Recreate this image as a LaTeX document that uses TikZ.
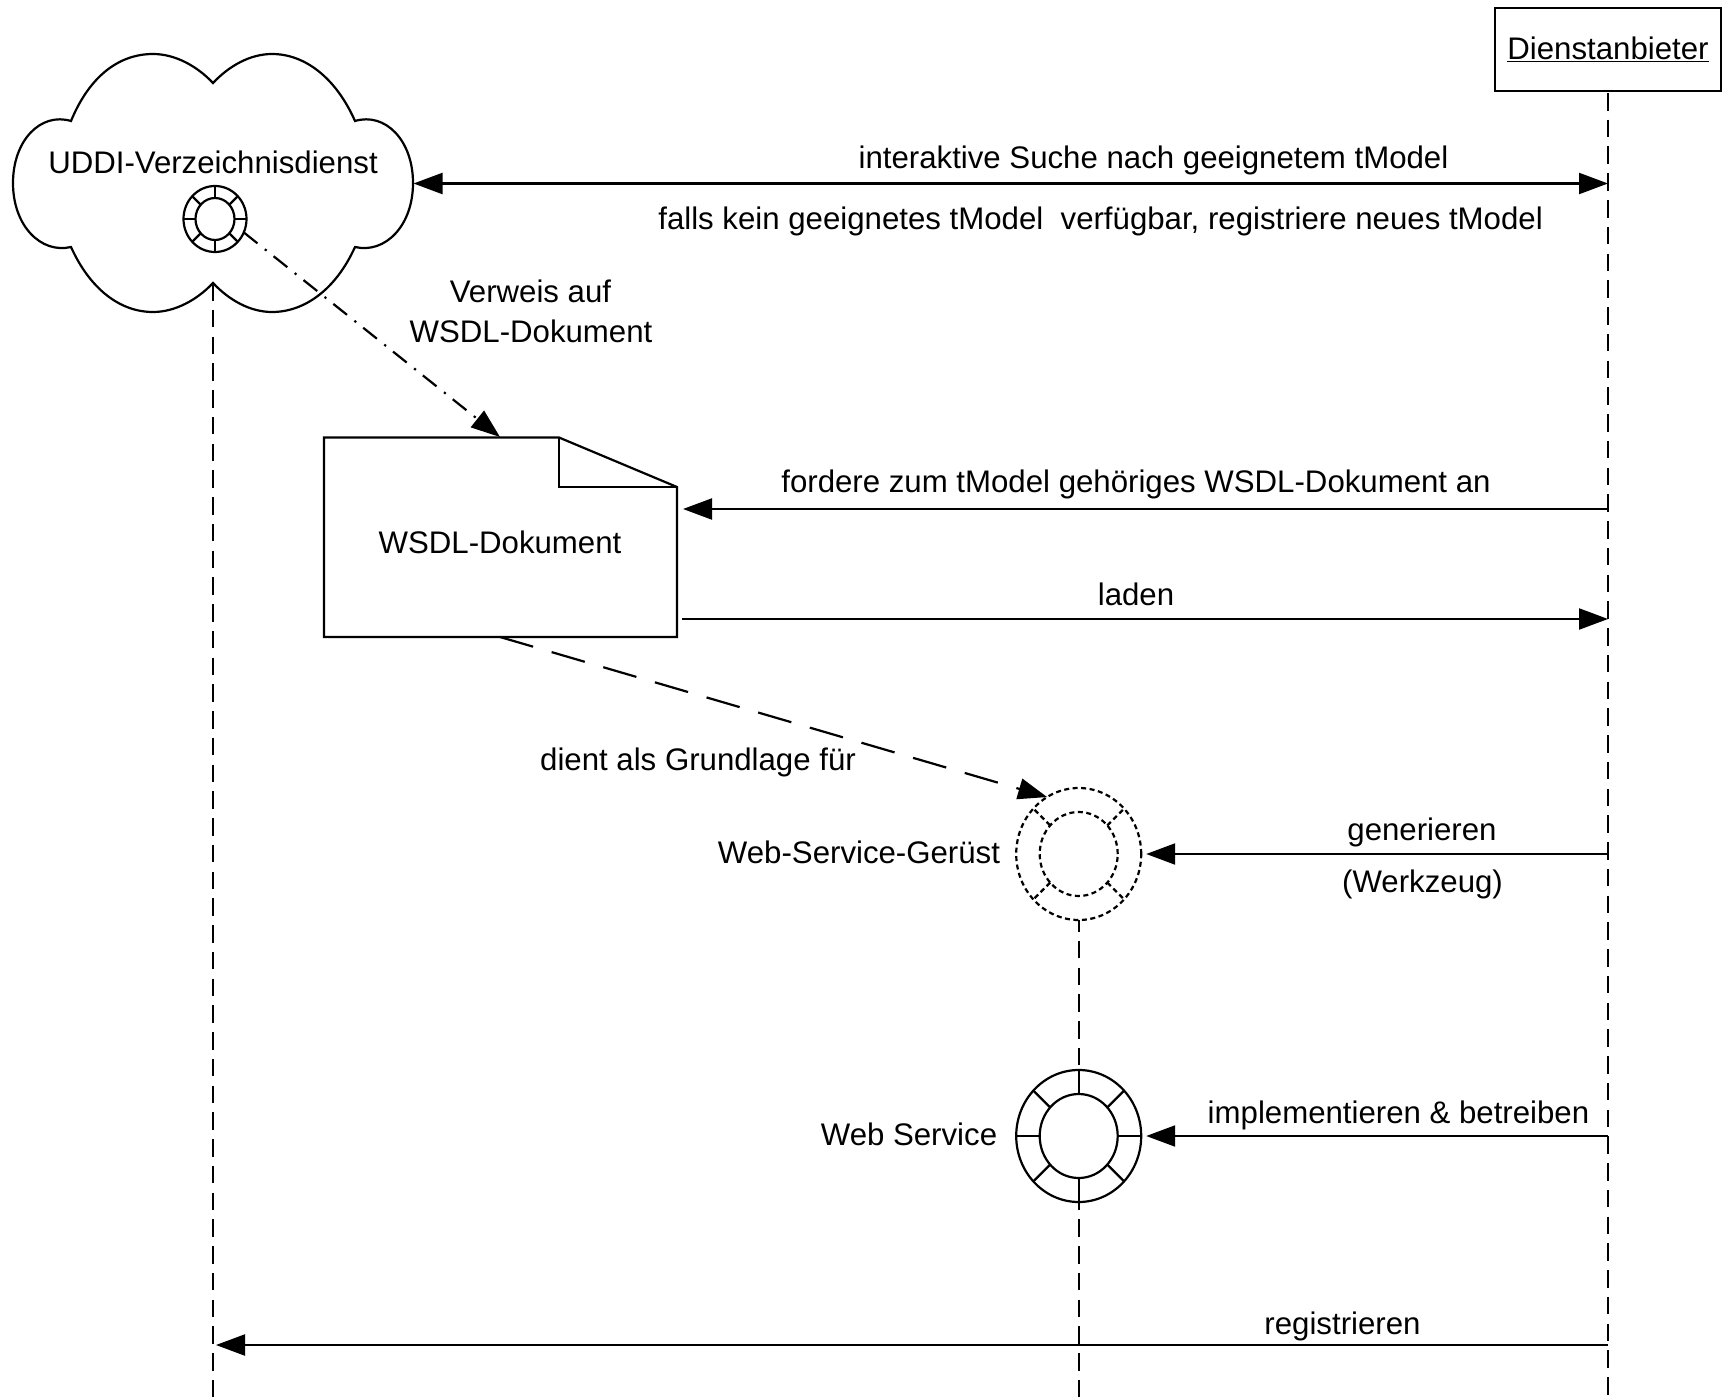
\documentclass[tikz,border=0pt]{standalone}
\usepackage{fontspec}
\setmainfont{Liberation Sans}
\usetikzlibrary{arrows.meta,shapes.geometric}
\tikzset{
  x=1pt,y=-1pt,
  every path/.style={line width=2.2pt},
  lbl/.style={inner sep=0pt,outer sep=0pt,font=\fontsize{31.2}{37}\selectfont,text height=29pt,text depth=6pt,align=center},
  tip/.style={-{Triangle[length=29pt,width=21pt]}},
  msg/.style={tip},
  msgboth/.style={{Triangle[length=29pt,width=21pt]}-{Triangle[length=29pt,width=21pt]}},
  life/.style={dash pattern=on 17.7pt off 9.05pt},
  refline/.style={tip,dash pattern=on 17.5pt off 9.5pt on 2.2pt off 9pt},
  basisline/.style={tip,dash pattern=on 34.5pt off 19.3pt},
  ringdot/.style={dash pattern=on 5pt off 3.5pt},
  ringsolid/.style={},
  ring/.style={ellipse,draw,inner sep=0pt,outer sep=0pt},
}
\newcommand{\ringicon}[8]{% name, x, y, inner w, inner h, outer w, outer h, style
  \node[ring,#8,minimum width=#6pt,minimum height=#7pt] (#1) at (#2,#3) {};
  \node[ring,#8,minimum width=#4pt,minimum height=#5pt] (#1In) at (#2,#3) {};
  \foreach \a in {45,135,225,315}{\draw[#8] (#1In.\a) -- (#1.\a);}
}
\begin{document}
\begin{tikzpicture}
\useasboundingbox (0,0) rectangle (1724,1399);
% lifelines
\node[draw,lbl,minimum width=226pt,minimum height=83pt,text height=26pt] (prov) at (1608,49.5) {\underline{Dienstanbieter}};
\coordinate (provStart) at (1608,93);
\coordinate (provEnd) at (1608,1399);
\draw[life] (provStart) -- (provEnd);
\coordinate (cloudS) at (213,283);
\coordinate (cloudE) at (413.5,183.5);
\coordinate (uddiEnd) at (213,1399);
\draw[life] (cloudS) -- (uddiEnd);
% cloud
\draw (71,121) .. controls (90,75) and (120,54) .. (153,54)
  .. controls (175,54) and (197,66) .. (213,83)
  .. controls (229,66) and (250,54) .. (272,54)
  .. controls (305,54) and (336,78) .. (355,121)
  .. controls (385,112) and (413,140) .. (413,183)
  .. controls (413,226) and (385,254) .. (355,247)
  .. controls (336,289) and (305,312) .. (272,312)
  .. controls (250,312) and (229,300) .. (213,283)
  .. controls (197,300) and (175,312) .. (153,312)
  .. controls (120,312) and (90,289) .. (71,247)
  .. controls (41,254) and (13,226) .. (13,183)
  .. controls (13,140) and (41,112) .. (71,121) -- cycle;
\node[lbl] (uddi) at (213,162) {UDDI-Verzeichnisdienst};
\ringicon{uddiRing}{215}{219}{39}{42}{63}{66}{ringsolid}
\draw (uddiRing.north) -- (uddiRingIn.north) (uddiRing.south) -- (uddiRingIn.south)
      (uddiRing.west) -- (uddiRingIn.west) (uddiRing.east) -- (uddiRingIn.east);
% document
\draw (324,437.5) -- (559,437.5) -- (677,487) -- (677,637) -- (324,637) -- cycle;
\draw (559,437.5) -- (559,487) -- (677,487);
\node[lbl] (doc) at (500,542) {WSDL-Dokument};
\coordinate (docTop) at (500,437);
\coordinate (docBottom) at (500,637);
\coordinate (docIn) at (683,509);
\coordinate (docOut) at (682,619);
% rings
\ringicon{gerust}{1078.7}{854}{78}{84}{125}{132}{ringdot}
\ringicon{svc}{1078.7}{1136}{78}{84}{125}{132}{ringsolid}
\draw (svc.north) -- (svcIn.north) (svc.south) -- (svcIn.south)
      (svc.west) -- (svcIn.west) (svc.east) -- (svcIn.east);
\coordinate (svcEnd) at (1078.7,1399);
\draw[life,dash phase=6pt] (gerust.south) -- (svc.north);
\draw[life,dash phase=9.5pt] (svc.south) -- (svcEnd);
% connectors
\coordinate (pA) at (1608,183.5);
\coordinate (pB) at (1608,509);
\coordinate (pC) at (1608,619);
\coordinate (pD) at (1608,854);
\coordinate (pE) at (1608,1136);
\coordinate (pF) at (1608,1345);
\coordinate (uF) at (216,1345);
\draw[msgboth] (cloudE) -- (pA);
\draw[msg] (pB) -- (docIn);
\draw[msg] (docOut) -- (pC);
\draw[msg,shorten >=5pt] (pD) -- (gerust.east);
\draw[msg,shorten >=5pt] (pE) -- (svc.east);
\draw[msg] (pF) -- (uF);
\draw[refline] (uddiRing.-25) -- (docTop);
\draw[basisline] (docBottom) -- (gerust.119);
% labels
\node[lbl] (l1) at (1153.5,157) {interaktive Suche nach geeignetem tModel};
\node[lbl] (l2) at (1100.6,218) {falls kein geeignetes tModel\ \ verfügbar, registriere neues tModel};
\node[lbl] (l3) at (530.5,291) {Verweis auf};
\node[lbl] (l4) at (531,331) {WSDL-Dokument};
\node[lbl] (l5) at (1136,480.5) {fordere zum tModel gehöriges WSDL-Dokument an};
\node[lbl] (l6) at (1136,594) {laden};
\node[lbl] (l7) at (698,759) {dient als Grundlage für};
\node[lbl] (l8) at (859,852) {Web-Service-Gerüst};
\node[lbl] (l9) at (1422,829) {generieren};
\node[lbl] (l10) at (1422.5,881) {(Werkzeug)};
\node[lbl] (l11) at (1398.5,1112) {implementieren \& betreiben};
\node[lbl] (l12) at (909,1134) {Web Service};
\node[lbl] (l13) at (1342.5,1323) {registrieren};
\end{tikzpicture}
\end{document}
